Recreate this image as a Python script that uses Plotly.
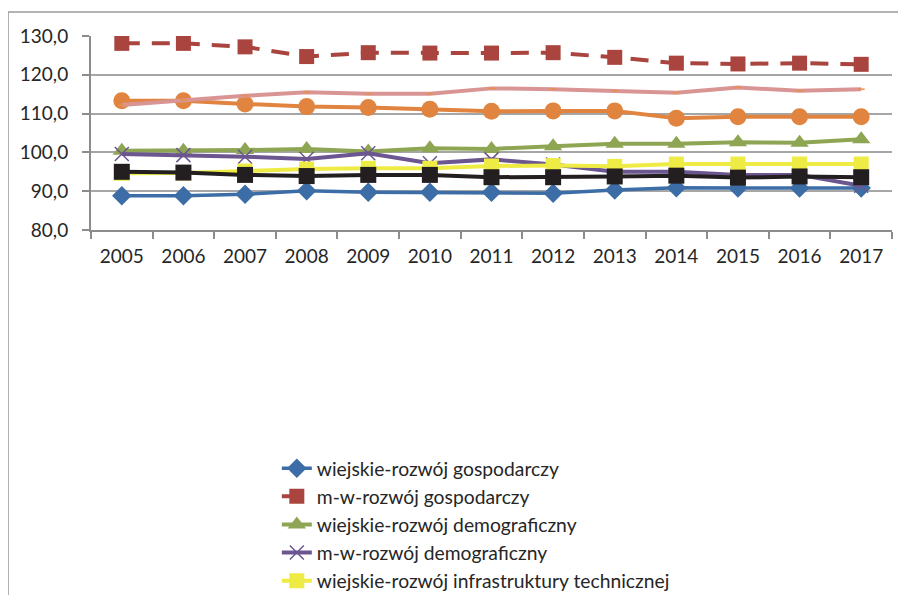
import plotly.graph_objects as go

years = ["2005", "2006", "2007", "2008", "2009", "2010", "2011", "2012", "2013", "2014", "2015", "2016", "2017"]

wiejskie_gosp = [88.8, 88.8, 89.2, 90.1, 89.7, 89.7, 89.7, 89.5, 90.3, 90.9, 90.8, 90.8, 90.8]
mw_gosp = [128.1, 128.1, 127.2, 124.7, 125.7, 125.6, 125.6, 125.7, 124.5, 123.0, 122.8, 123.0, 122.7]
wiejskie_demo = [100.4, 100.4, 100.6, 100.9, 100.2, 101.1, 100.9, 101.6, 102.2, 102.2, 102.6, 102.5, 103.4]
mw_demo = [99.6, 99.3, 98.9, 98.3, 99.8, 97.2, 98.2, 96.9, 95.0, 95.0, 94.2, 94.2, 91.4]
wiejskie_infra = [94.6, 94.7, 95.2, 95.7, 95.9, 95.9, 96.5, 96.6, 96.4, 97.0, 97.0, 97.0, 97.0]
orange_series = [113.3, 113.3, 112.5, 111.8, 111.6, 111.1, 110.6, 110.7, 110.7, 108.8, 109.2, 109.2, 109.2]
black_series = [95.0, 94.8, 94.2, 93.9, 94.2, 94.2, 93.6, 93.6, 93.8, 94.0, 93.5, 93.8, 93.6]
pink_series = [112.2, 113.5, 114.6, 115.5, 115.1, 115.1, 116.5, 116.3, 115.9, 115.4, 116.7, 115.9, 116.3]

names = [
    "wiejskie-rozwój gospodarczy",
    "m-w-rozwój gospodarczy",
    "wiejskie-rozwój demograficzny",
    "m-w-rozwój demograficzny",
    "wiejskie-rozwój infrastruktury technicznej",
]

fig = go.Figure()

fig.add_trace(go.Scatter(x=years, y=wiejskie_gosp, name=names[0], mode="lines+markers",
                         line=dict(color="#3d6da6", width=3.5),
                         marker=dict(symbol="diamond", size=15, color="#3d6da6")))
fig.add_trace(go.Scatter(x=years, y=mw_gosp, name=names[1], mode="lines+markers",
                         line=dict(color="#a9443f", width=4, dash="18px,12px"),
                         marker=dict(symbol="square", size=15, color="#a9443f")))
fig.add_trace(go.Scatter(x=years, y=wiejskie_demo, name=names[2], mode="lines+markers",
                         line=dict(color="#8ea553", width=4),
                         marker=dict(symbol="triangle-up", size=16, color="#8ea553")))
fig.add_trace(go.Scatter(x=years, y=mw_demo, name=names[3], mode="lines+markers",
                         line=dict(color="#6c5690", width=4),
                         marker=dict(symbol="x-thin", size=14, line=dict(color="#6c5690", width=1.5))))
fig.add_trace(go.Scatter(x=years, y=wiejskie_infra, name=names[4], mode="lines+markers",
                         line=dict(color="#eeeb45", width=4),
                         marker=dict(symbol="square", size=15, color="#eeeb45")))
fig.add_trace(go.Scatter(x=years, y=orange_series, name="s6", mode="lines+markers", showlegend=False,
                         line=dict(color="#e0843f", width=4),
                         marker=dict(symbol="circle", size=17, color="#e0843f")))
fig.add_trace(go.Scatter(x=years, y=black_series, name="s7", mode="lines+markers", showlegend=False,
                         line=dict(color="#231f20", width=4),
                         marker=dict(symbol="square", size=16, color="#231f20")))
fig.add_trace(go.Scatter(x=years, y=pink_series, name="s8", mode="lines+markers", showlegend=False,
                         line=dict(color="#d99594", width=4),
                         marker=dict(symbol="line-ew", size=5, line=dict(color="#e8904a", width=1.5))))

fig.update_layout(
    width=906, height=595,
    margin=dict(l=83, r=22, t=28, b=373, autoexpand=False),
    paper_bgcolor="white", plot_bgcolor="white",
    separators=", ",
    font=dict(family="Lato", size=19, color="#262626"),
    showlegend=True,
    legend=dict(x=0.232, xanchor="left", y=-1.13, yanchor="top",
                font=dict(family="Lato", size=19.3, color="#262626"),
                bgcolor="rgba(0,0,0,0)", traceorder="normal"),
    xaxis=dict(type="category", range=[-0.5, 12.5], showgrid=False,
               showline=True, linecolor="#8c8c8c", linewidth=2,
               ticks="outside", ticklen=7, tickcolor="#8c8c8c", tickwidth=2,
               tickson="boundaries", ticklabelstandoff=8, automargin=False,
               tickfont=dict(family="Lato", size=19, color="#262626")),
    yaxis=dict(range=[80, 130], dtick=10, tickformat=".1f",
               showgrid=True, gridcolor="#a6a6a6", gridwidth=1.5,
               showline=True, linecolor="#8c8c8c", linewidth=2,
               ticks="outside", ticklen=7, tickcolor="#8c8c8c", tickwidth=2,
               ticklabelstandoff=10, zeroline=False, automargin=False,
               tickfont=dict(family="Lato", size=19, color="#262626")),
)

fig.add_shape(type="rect", xref="paper", yref="paper",
              x0=-0.1036, x1=1.08, y0=-2.0, y1=1.1237,
              line=dict(color="#9a9a9a", width=1.5), fillcolor="rgba(0,0,0,0)", layer="below")

fig.write_html("out.html")
